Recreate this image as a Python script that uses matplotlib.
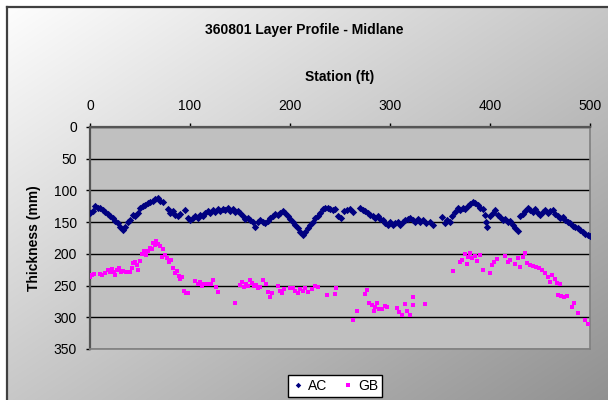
import numpy as np
import matplotlib
matplotlib.use("Agg")
import matplotlib.pyplot as plt
from matplotlib.lines import Line2D

plt.rcParams["font.family"] = ["Liberation Sans", "DejaVu Sans"]

# AC layer thickness (mm) vs station (ft)
ac_station = [0, 2.5, 5, 7.5, 10, 12.5, 15, 17.5, 20, 22.5, 25, 27.5, 30, 32.5, 35, 37.5,
              40, 42.5, 45, 47.5, 50, 52.5, 55, 57.5, 60, 62.5, 65, 67.5, 70, 72.5, 77.5,
              80, 82.5, 85, 87.5, 90, 95, 97.5, 100, 102.5, 105, 107.5, 110, 112.5, 115,
              117.5, 120, 122.5, 125, 127.5, 130, 132.5, 135, 137.5, 140, 142.5, 145,
              147.5, 150, 152.5, 155, 157.5, 160, 162.5, 165, 167.5, 170, 172.5, 175,
              177.5, 180, 182.5, 185, 187.5, 190, 192.5, 195, 197.5, 200, 202.5, 205,
              207.5, 210, 212.5, 215, 217.5, 220, 222.5, 225, 227.5, 230, 232.5, 235,
              237.5, 240, 242.5, 245, 248, 251, 254, 257, 260, 263, 270, 272.5, 275,
              277.5, 280, 282.5, 285, 287.5, 290, 292.5, 295, 297.5, 300, 302.5, 305,
              307.5, 310, 312.5, 315, 317.5, 320, 322.5, 325, 327.5, 330, 333, 336, 340,
              343, 352, 355, 357, 360, 362, 365, 367.5, 370, 372.5, 375, 377.5, 380,
              382.5, 385, 387.5, 390, 392.5, 395, 396, 397, 400, 402.5, 405, 407.5, 410,
              412.5, 415, 417.5, 420, 422.5, 425, 427.5, 430, 432.5, 435, 437.5, 440,
              442.5, 445, 447.5, 450, 452.5, 455, 457.5, 460, 462.5, 465, 467.5, 470,
              472.5, 475, 477.5, 480, 482.5, 485, 487.5, 490, 492.5, 495, 497.5, 500]
ac_mm = [135, 132, 124, 128, 127, 131, 134, 137, 140, 144, 148, 152, 157, 163, 158, 150,
         146, 138, 141, 135, 127, 125, 123, 120, 119, 116, 114, 112, 116, 118, 130,
         136, 133, 139, 141, 137, 131, 143, 147, 144, 140, 144, 138, 141, 136,
         133, 135, 131, 134, 130, 133, 129, 131, 128, 132, 130, 134,
         132, 136, 140, 145, 143, 147, 150, 158, 149, 146, 150, 152,
         148, 144, 140, 137, 139, 135, 132, 136, 141, 145, 150, 155,
         160, 165, 170, 166, 160, 155, 149, 144, 140, 136, 130, 128,
         127, 129, 131, 130, 141, 143, 133, 131, 130, 134, 128, 131, 132,
         136, 138, 141, 143, 140, 145, 147, 151, 154, 150, 155, 152,
         149, 154, 150, 147, 145, 143, 146, 149, 145, 150, 147, 152, 149,
         154, 142, 152, 146, 150, 140, 134, 128, 131, 127, 129, 125, 121,
         118, 120, 123, 127, 129, 138, 150, 158, 140, 136, 131, 138, 142,
         147, 145, 150, 148, 155, 160, 164, 140, 137, 133, 128, 131,
         134, 130, 135, 138, 134, 131, 135, 133, 131, 137, 140, 144,
         142, 146, 150, 152, 156, 158, 160, 162, 165, 168, 170, 172]

# GB layer thickness (mm) vs station (ft)
gb_station = [0, 2, 4, 10, 12, 15, 18, 20, 22, 24, 25, 27, 29, 31, 33, 36, 40, 42, 43, 45,
              47, 48, 50, 52, 54, 56, 58, 60, 62, 63, 65, 66, 68, 70, 72, 73, 75, 77, 79,
              81, 83, 85, 87, 89, 90, 92, 94, 96, 98, 105, 108, 110, 112, 114, 118, 121,
              123, 126, 128, 145, 150, 152, 154, 156, 158, 160, 162, 164, 166, 168, 170,
              173, 176, 178, 180, 182, 188, 190, 192, 194, 200, 203, 205, 208, 210, 213,
              215, 218, 222, 225, 228, 237, 245, 246, 263, 267, 275, 277, 279, 282, 284,
              285, 287, 289, 292, 295, 297, 307, 309, 312, 315, 317, 320, 323, 323, 335,
              363, 370, 372, 375, 377, 378, 380, 382, 385, 387, 390, 393, 400, 402, 404,
              407, 415, 418, 420, 425, 428, 430, 433, 435, 437, 440, 443, 446, 449, 452,
              455, 458, 460, 462, 465, 467, 470, 468, 471, 474, 477, 482, 484, 488, 495,
              498]
gb_mm = [236, 233, 232, 231, 233, 230, 226, 228, 224, 229, 234, 225, 222, 228, 227, 229,
         228, 222, 215, 213, 217, 225, 212, 200, 196, 202, 196, 190, 192, 183, 186, 180,
         184, 188, 205, 192, 202, 206, 213, 210, 222, 230, 227, 235, 240, 237, 258, 262,
         261, 243, 248, 245, 250, 248, 247, 247, 241, 253, 260, 278, 249, 244, 252, 248,
         251, 241, 246, 250, 249, 254, 252, 242, 248, 260, 268, 262, 250, 258, 262, 255,
         254, 254, 258, 262, 256, 258, 254, 260, 256, 250, 252, 265, 264, 254, 305, 290,
         263, 257, 277, 280, 290, 283, 278, 287, 287, 282, 284, 286, 292, 297, 279, 290,
         297, 268, 281, 279, 227, 213, 209, 200, 216, 205, 199, 207, 203, 212, 202, 225,
         230, 217, 213, 208, 204, 213, 209, 216, 206, 221, 205, 199, 215, 217, 219, 220,
         223, 226, 230, 237, 244, 233, 240, 246, 247, 265, 267, 268, 266, 283, 278, 294,
         305, 310]

W, H = 608, 400
fig = plt.figure(figsize=(W / 100, H / 100), dpi=100)

# chart area: white top-left fading to gray bottom-right, border on left/top
bg = fig.add_axes([0, 0, 1, 1], zorder=-10)
xs, ys = np.meshgrid(np.arange(W) / W, np.arange(H) / H)
shade = (255 - 55 * xs - 55 * ys) / 255
img = np.dstack([shade] * 3)
img[:6, :, :] = 1.0
img[:, :6, :] = 1.0
bg.imshow(img, extent=[0, W, H, 0], aspect="auto", interpolation="nearest")
bg.plot([6.5, 6.5], [H, 6.5], color="#404040", lw=1.6)
bg.plot([6.5, W], [6.5, 6.5], color="#404040", lw=1.6)
bg.set_xlim(0, W)
bg.set_ylim(H, 0)
bg.axis("off")

ax = fig.add_axes([90 / W, 51 / H, 500 / W, 222 / H])
ax.set_facecolor("#c0c0c0")
ax.scatter(ac_station, ac_mm, marker="D", s=14, color="#000080", lw=0, zorder=3)
ax.scatter(gb_station, gb_mm, marker="s", s=12, color="#ff00ff", lw=0, zorder=3)

ax.set_xlim(0, 500)
ax.set_ylim(350, 0)
ax.set_xticks(range(0, 501, 100))
ax.set_yticks(range(0, 351, 50))
ax.xaxis.tick_top()
ax.xaxis.set_label_position("top")
ax.tick_params(axis="x", direction="out", length=3, width=1, labelsize=10, pad=7, color="black")
ax.tick_params(axis="y", direction="out", length=3, width=1, labelsize=10, pad=6.5, color="black")
ax.grid(axis="y", color="black", lw=1)
ax.set_axisbelow(True)
for side in ["left", "top"]:
    ax.spines[side].set_color("#555555")
    ax.spines[side].set_linewidth(1.6)
for side in ["right", "bottom"]:
    ax.spines[side].set_color("#808080")
    ax.spines[side].set_linewidth(1.2)

ax.set_xlabel("Station (ft)", fontsize=10, fontweight="bold", labelpad=13)
ax.set_ylabel("Thickness (mm)", fontsize=10, fontweight="bold", labelpad=9)
fig.text(0.5, 1 - 30 / H, "360801 Layer Profile - Midlane", ha="center", va="center",
         fontsize=10, fontweight="bold")

handles = [Line2D([], [], ls="none", marker="D", ms=2.8, color="#000080", mew=0),
           Line2D([], [], ls="none", marker="s", ms=3.2, color="#ff00ff", mew=0)]
leg = fig.legend(handles, ["AC", "GB"], loc="center", bbox_to_anchor=(335 / W, 14 / H),
                 ncol=2, fontsize=10, frameon=True, fancybox=False, edgecolor="black",
                 framealpha=1, handletextpad=0.3, columnspacing=1.0, borderpad=0.3,
                 handlelength=0.9)
leg.get_frame().set_linewidth(1)

fig.savefig("out.png", dpi=100)
